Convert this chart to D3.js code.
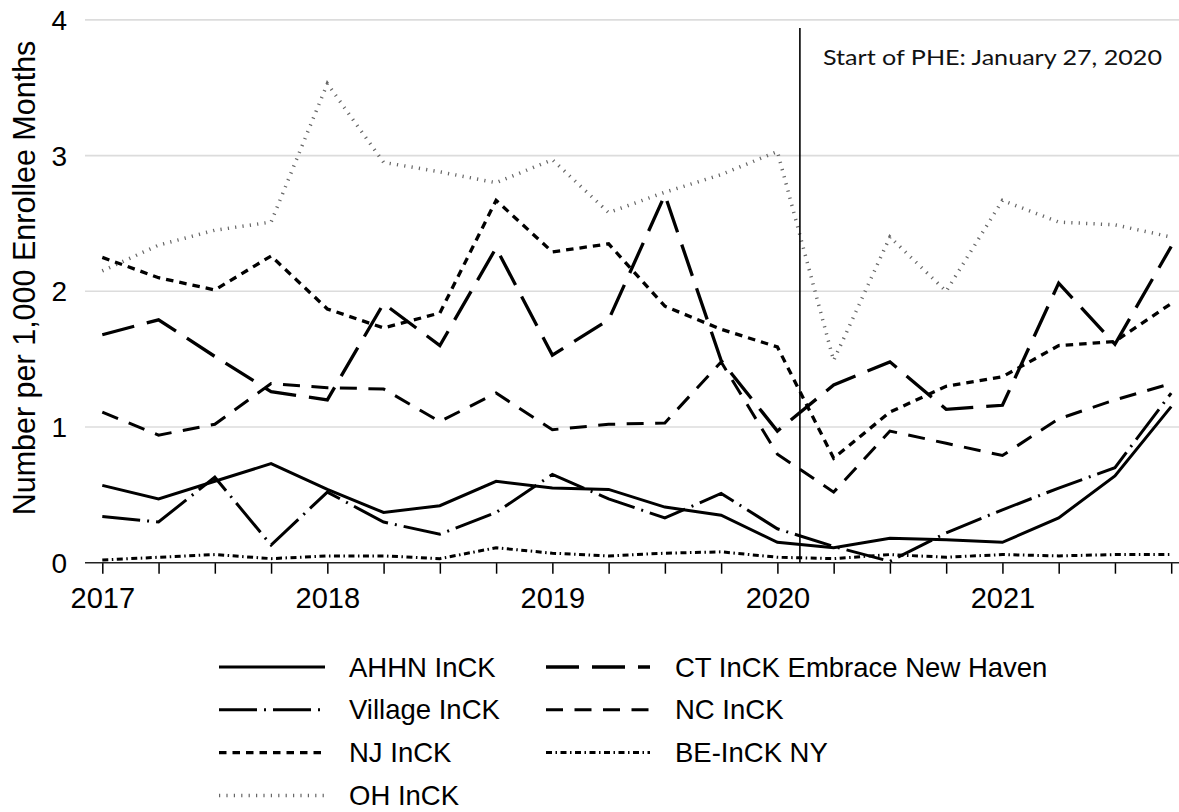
<!DOCTYPE html>
<html>
<head>
<meta charset="utf-8">
<script src="https://cdn.jsdelivr.net/npm/d3@7"></script>
<style>
  html, body { margin: 0; padding: 0; background: #fff; }
  svg { display: block; }
</style>
</head>
<body>
<svg id="chart" width="1179" height="812"></svg>
<script>
// ---------- DATA ----------
const quarters = ["2017Q1","2017Q2","2017Q3","2017Q4","2018Q1","2018Q2","2018Q3","2018Q4",
                  "2019Q1","2019Q2","2019Q3","2019Q4","2020Q1","2020Q2","2020Q3","2020Q4",
                  "2021Q1","2021Q2","2021Q3","2021Q4"];
const yearTickLabels = ["2017","2018","2019","2020","2021"];
const yTicks = [0, 1, 2, 3, 4];

const ahhn    = [0.57,0.47,0.60,0.73,0.54,0.37,0.42,0.60,0.55,0.54,0.41,0.35,0.15,0.11,0.18,0.17,0.15,0.33,0.64,1.15];
const ct      = [1.68,1.79,1.52,1.26,1.20,1.91,1.60,2.32,1.53,1.79,2.71,1.49,0.97,1.31,1.48,1.13,1.16,2.06,1.61,2.33];
const village = [0.34,0.30,0.63,0.13,0.52,0.30,0.21,0.37,0.65,0.47,0.33,0.51,0.25,0.12,0.01,0.22,0.39,0.55,0.70,1.25];
const nc      = [1.11,0.94,1.02,1.32,1.29,1.28,1.04,1.25,0.98,1.02,1.03,1.48,0.80,0.52,0.97,0.88,0.79,1.06,1.20,1.32];
const nj      = [2.25,2.10,2.01,2.26,1.87,1.73,1.84,2.67,2.29,2.35,1.89,1.72,1.59,0.77,1.11,1.30,1.37,1.60,1.63,1.91];
const beny    = [0.02,0.04,0.06,0.03,0.05,0.05,0.03,0.11,0.07,0.05,0.07,0.08,0.04,0.03,0.06,0.04,0.06,0.05,0.06,0.06];
const oh      = [2.15,2.34,2.45,2.51,3.53,2.95,2.88,2.80,2.97,2.58,2.73,2.86,3.03,1.49,2.40,2.00,2.67,2.51,2.49,2.40];

const seriesNames = ["AHHN InCK","CT InCK Embrace New Haven","Village InCK","NC InCK","NJ InCK","BE-InCK NY","OH InCK"];
const phePosition = 12.4;   // quarter index of January 27, 2020 marker
const pheLabel = "Start of PHE: January 27, 2020";
const yTitle = "Number per 1,000 Enrollee Months";

// ---------- STYLES ----------
const styles = {
  "AHHN InCK":                 { color: "#000", width: 3,   dash: null },
  "CT InCK Embrace New Haven": { color: "#000", width: 3.3, dash: "33,13" },
  "Village InCK":              { color: "#000", width: 3,   dash: "38,7,2,7" },
  "NC InCK":                   { color: "#000", width: 3,   dash: "17,11.5" },
  "NJ InCK":                   { color: "#000", width: 3.3, dash: "7.5,6" },
  "BE-InCK NY":                { color: "#000", width: 3,   dash: "6,3.5,1.5,3.5" },
  "OH InCK":                   { color: "#666", width: 3.5, dash: "1.2,6.2" }
};
const seriesData = {
  "AHHN InCK": ahhn, "CT InCK Embrace New Haven": ct, "Village InCK": village,
  "NC InCK": nc, "NJ InCK": nj, "BE-InCK NY": beny, "OH InCK": oh
};

// ---------- LAYOUT ----------
const svg = d3.select("#chart");
const font = "'Liberation Sans', Arial, Helvetica, sans-serif";
const x = d3.scaleLinear().domain([0, quarters.length - 1]).range([102.3, 1171.2]);
const y = d3.scaleLinear().domain([0, 4]).range([562.7, 19.9]);
const gridLeft = 85, gridRight = 1179;

// gridlines
svg.append("g").selectAll("line").data(yTicks.filter(d => d > 0)).join("line")
  .attr("x1", gridLeft).attr("x2", gridRight)
  .attr("y1", d => y(d)).attr("y2", d => y(d))
  .attr("stroke", "#dcdcdc").attr("stroke-width", 1.6);

// y tick labels
svg.append("g").selectAll("text").data(yTicks).join("text")
  .attr("x", 67).attr("y", d => y(d) + 10)
  .attr("text-anchor", "end")
  .attr("font-family", font).attr("font-size", 28)
  .text(d => d);

// y title
svg.append("text")
  .attr("transform", `translate(35, 278) rotate(-90)`)
  .attr("text-anchor", "middle")
  .attr("font-family", font).attr("font-size", 30.5)
  .text(yTitle);

// x axis
const xAxis = d3.axisBottom(x)
  .tickValues(d3.range(quarters.length))
  .tickSize(11)
  .tickPadding(14)
  .tickFormat(i => (i % 4 === 0 ? yearTickLabels[i / 4] : ""));
const gx = svg.append("g").attr("transform", `translate(0, ${y(0)})`).call(xAxis);
gx.select(".domain").remove();
gx.selectAll(".tick line").attr("stroke", "#000").attr("stroke-width", 1.5);
gx.selectAll(".tick text").attr("font-family", font).attr("font-size", 29).attr("fill", "#000")
  .attr("dy", "0.71em");
svg.append("line")
  .attr("x1", gridLeft).attr("x2", gridRight).attr("y1", y(0)).attr("y2", y(0))
  .attr("stroke", "#222").attr("stroke-width", 1.6);

// lines
const line = d3.line().x((d, i) => x(i)).y(d => y(d));
const drawOrder = ["OH InCK","BE-InCK NY","NJ InCK","NC InCK","Village InCK","CT InCK Embrace New Haven","AHHN InCK"];
svg.append("g").selectAll("path").data(drawOrder).join("path")
  .attr("d", n => line(seriesData[n]))
  .attr("fill", "none")
  .attr("stroke", n => styles[n].color)
  .attr("stroke-width", n => styles[n].width)
  .attr("stroke-dasharray", n => styles[n].dash)
  .attr("stroke-linejoin", "miter");

// PHE marker
svg.append("line")
  .attr("x1", x(phePosition)).attr("x2", x(phePosition))
  .attr("y1", 28).attr("y2", y(0))
  .attr("stroke", "#000").attr("stroke-width", 1.6);
svg.append("text")
  .attr("x", 823).attr("y", 65)
  .attr("font-family", "Lato, 'DejaVu Sans', sans-serif").attr("font-size", 22)
  .attr("textLength", 339).attr("lengthAdjust", "spacingAndGlyphs")
  .attr("fill", "#111")
  .text(pheLabel);

// legend
const legendOrder = [
  ["AHHN InCK", 0, 0], ["CT InCK Embrace New Haven", 1, 0],
  ["Village InCK", 0, 1], ["NC InCK", 1, 1],
  ["NJ InCK", 0, 2], ["BE-InCK NY", 1, 2],
  ["OH InCK", 0, 3]
];
const colX = [{ l1: 219, l2: 325, t: 349 }, { l1: 546, l2: 650, t: 675 }];
const rowY = r => 667 + r * 42.8;
const lg = svg.append("g").selectAll("g").data(legendOrder).join("g");
lg.append("line")
  .attr("x1", d => colX[d[1]].l1).attr("x2", d => colX[d[1]].l2)
  .attr("y1", d => rowY(d[2])).attr("y2", d => rowY(d[2]))
  .attr("stroke", d => styles[d[0]].color)
  .attr("stroke-width", d => styles[d[0]].width)
  .attr("stroke-dasharray", d => styles[d[0]].dash);
lg.append("text")
  .attr("x", d => colX[d[1]].t).attr("y", d => rowY(d[2]) + 9.5)
  .attr("font-family", font).attr("font-size", 27.5)
  .text(d => d[0]);
</script>
</body>
</html>
